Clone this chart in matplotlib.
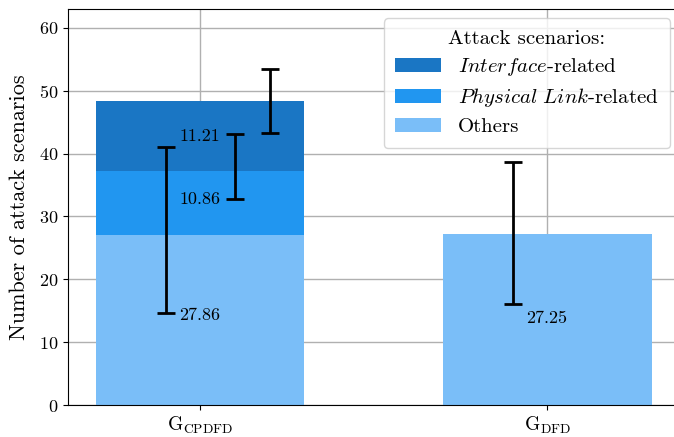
import numpy as np
import matplotlib
matplotlib.use('Agg')
import matplotlib.pyplot as plt

plt.rcParams['font.family'] = 'serif'
plt.rcParams['font.serif'] = ['cmr10']
plt.rcParams['mathtext.fontset'] = 'cm'
plt.rcParams['axes.unicode_minus'] = False
plt.rcParams['axes.formatter.use_mathtext'] = True

categories = [r'$\mathrm{G}_{\mathrm{CPDFD}}$', r'$\mathrm{G}_{\mathrm{DFD}}$']
others = [27.1, 27.25]
physical = [10.05, 0.0]
interface = [11.15, 0.0]

# error bars: which bar, centre, half width, label text and label height
err_bar = [0, 0, 0, 1]
err_mid = [27.9, 37.95, 48.35, 27.3]
err_half = [13.2, 5.15, 5.1, 11.3]
mean_labels = ['27.86', '10.86', '11.21', '27.25']
label_y = [14.2, 32.7, 42.8, 13.85]

c_dark = '#1a76c4'
c_mid = '#2196f0'
c_light = '#7abef8'

fig = plt.figure(figsize=(6.74, 4.37), dpi=100)
ax = fig.add_axes([68.3 / 674, 32 / 437, 611 / 674, 396 / 437])

x = np.arange(len(categories))
w = 0.6
others = np.array(others)
physical = np.array(physical)
interface = np.array(interface)

ax.bar(x, others, w, color=c_light, label='Others')
ax.bar(x[:1], physical[:1], w, bottom=others[:1], color=c_mid,
       label=r'$\mathit{Physical\ Link}$-related')
ax.bar(x[:1], interface[:1], w, bottom=(others + physical)[:1], color=c_dark,
       label=r'$\mathit{Interface}$-related')

offsets = [-0.1, 0.1, 0.2, -0.1]
for i in range(len(err_mid)):
    xe = x[err_bar[i]] + offsets[i]
    ax.errorbar(xe, err_mid[i], yerr=err_half[i], color='black', lw=2,
                capsize=6.5, capthick=2, zorder=5)
    ax.text(x[err_bar[i]] - 0.06, label_y[i], mean_labels[i], fontsize=13,
            va='center', ha='left', zorder=6)

ax.set_xticks(x)
ax.set_xticklabels(categories, fontsize=14)
ax.set_yticks(np.arange(0, 61, 10))
ax.tick_params(axis='y', labelsize=13)
ax.set_ylabel('Number of attack scenarios', fontsize=16, labelpad=7)
ax.set_xlim(-0.38, 1.38)
ax.set_ylim(0, 63)
ax.grid(True, color='#b0b0b0', lw=1)
ax.set_axisbelow(True)
ax.spines['right'].set_visible(False)

handles, labels = ax.get_legend_handles_labels()
ax.legend(handles[::-1], labels[::-1], title='Attack scenarios:', loc='upper right',
          fontsize=15, title_fontsize=15, borderaxespad=0.45, labelspacing=0.4,
          borderpad=0.55, handlelength=2.2)

fig.savefig('out.png', dpi=100)
